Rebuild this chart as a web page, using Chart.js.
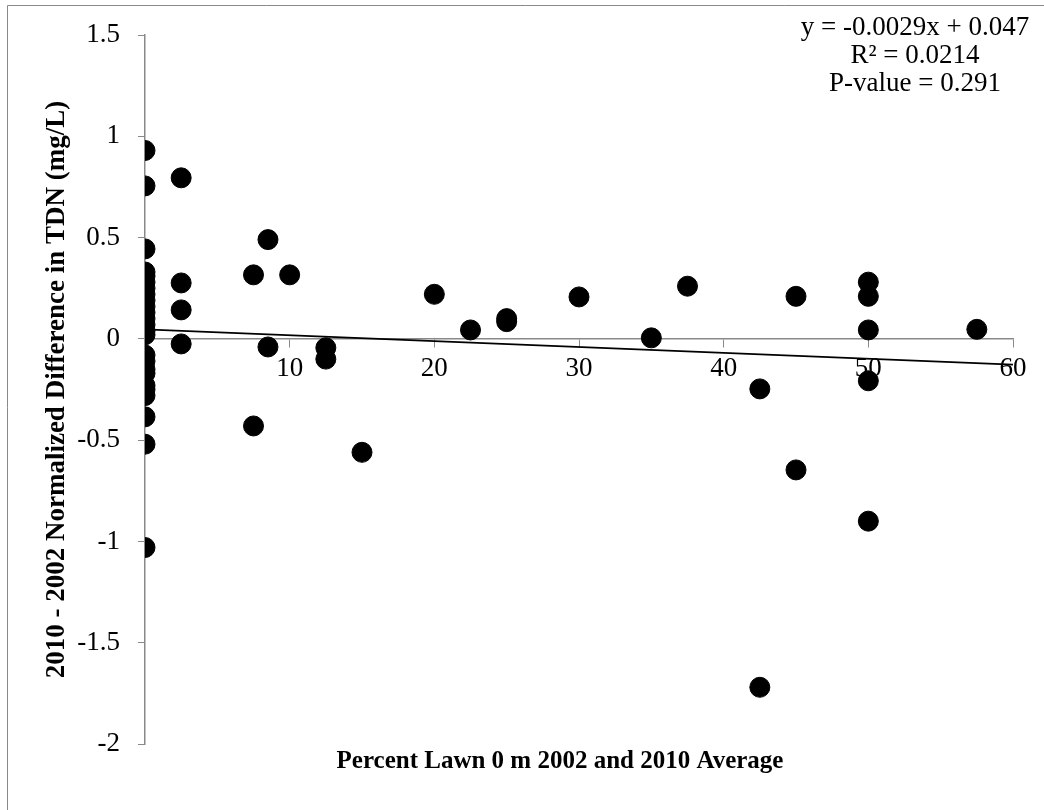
<!DOCTYPE html>
<html>
<head>
<meta charset="utf-8">
<script src="https://cdn.jsdelivr.net/npm/chart.js@4/dist/chart.umd.min.js"></script>
<style>
  html, body { margin: 0; padding: 0; background: #fff; }
  #wrap { position: relative; width: 1044px; height: 810px; }
</style>
</head>
<body>
<div id="wrap"><canvas id="myChart" width="1044" height="810"></canvas></div>
<script>
// percent lawn (x) and TDN difference (y)
var lawnPct = [
  0, 0, 0, 0, 0, 0, 0, 0, 0, 0, 0, 0, 0, 0, 0,
  0, 0, 0, 0, 0, 0, 0, 0, 0, 0,
  2.5, 2.5, 2.5, 2.5,
  7.5, 7.5, 8.5, 8.5, 10, 12.5, 12.5, 15,
  20, 22.5, 25, 25, 30, 35, 37.5,
  42.5, 42.5, 45, 45, 50, 50, 50, 50, 50, 57.5
];
var tdnDiff = [
  0.93, 0.755, 0.444, 0.33, 0.31, 0.28, 0.25, 0.22, 0.19, 0.16, 0.13, 0.10, 0.07, 0.04, 0.02,
  -0.08, -0.11, -0.15, -0.17, -0.23, -0.25, -0.28, -0.385, -0.52, -1.03,
  0.795, 0.276, 0.143, -0.025,
  0.316, -0.43, 0.49, -0.04, 0.316, -0.044, -0.10, -0.56,
  0.22, 0.044, 0.10, 0.085, 0.207, 0.005, 0.26,
  -0.247, -1.72, 0.21, -0.647, 0.28, 0.21, 0.044, -0.207, -0.90, 0.047
];

// linear trendline end points
var trendX = [0, 60];
var trendY = [0.047, -0.127];

var xTicks = [0, 10, 20, 30, 40, 50, 60];
var yTicks = [-2, -1.5, -1, -0.5, 0, 0.5, 1, 1.5];

var statsText = ["y = -0.0029x + 0.047", "R\u00b2 = 0.0214", "P-value = 0.291"];
var xTitle = "Percent Lawn 0 m 2002 and 2010 Average";
var yTitle = "2010 - 2002 Normalized Difference in TDN (mg/L)";

var FONT = "'Liberation Serif', 'Times New Roman', serif";
var AXIS_GRAY = "#898989";

var points = lawnPct.map(function (x, i) { return { x: x, y: tdnDiff[i] }; });
var trend = trendX.map(function (x, i) { return { x: x, y: trendY[i] }; });

var extrasPlugin = {
  id: 'extras',
  beforeDraw: function (chart) {
    var ctx = chart.ctx;
    ctx.save();
    ctx.strokeStyle = AXIS_GRAY;
    ctx.lineWidth = 1;
    ctx.beginPath();
    ctx.moveTo(7.5, 810);
    ctx.lineTo(7.5, 5.5);
    ctx.lineTo(1044, 5.5);
    ctx.stroke();
    ctx.restore();
  },
  afterDraw: function (chart) {
    var ctx = chart.ctx;
    ctx.save();
    ctx.fillStyle = "#000";
    ctx.textAlign = "center";
    ctx.textBaseline = "middle";
    ctx.font = "27px " + FONT;
    for (var i = 0; i < statsText.length; i++) {
      ctx.fillText(statsText[i], 915, 28 + i * 28);
    }
    ctx.font = "bold 25px " + FONT;
    ctx.fillText(xTitle, 560, 762);
    ctx.restore();
  }
};

var ctx = document.getElementById("myChart").getContext("2d");
var myChart = new Chart(ctx, {
  type: 'scatter',
  data: {
    datasets: [
      {
        label: 'TDN',
        data: points,
        backgroundColor: '#000',
        borderColor: '#000',
        pointRadius: 10,
        pointHoverRadius: 10,
        order: 2
      },
      {
        label: 'Trend',
        type: 'line',
        data: trend,
        borderColor: '#000',
        borderWidth: 1.6,
        pointRadius: 0,
        fill: false,
        order: 1
      }
    ]
  },
  options: {
    responsive: false,
    animation: false,
    layout: { padding: { left: 0, top: 35, right: 31, bottom: 66 } },
    plugins: {
      legend: { display: false },
      tooltip: { enabled: false }
    },
    scales: {
      x: {
        type: 'linear',
        position: { y: 0 },
        min: 0,
        max: 60,
        afterBuildTicks: function (scale) {
          scale.ticks = xTicks.map(function (v) { return { value: v }; });
        },
        ticks: {
          color: '#000',
          font: { family: FONT, size: 27 },
          padding: 6,
          maxRotation: 0,
          callback: function (v) { return v === 0 ? '' : String(v); }
        },
        grid: { drawOnChartArea: false, drawTicks: true, tickLength: 8, color: AXIS_GRAY },
        border: { color: AXIS_GRAY, width: 1.5 }
      },
      y: {
        type: 'linear',
        position: 'left',
        min: -2,
        max: 1.5,
        afterBuildTicks: function (scale) {
          scale.ticks = yTicks.map(function (v) { return { value: v }; });
        },
        afterFit: function (scale) { scale.width = 145; },
        ticks: {
          color: '#000',
          font: { family: FONT, size: 27 },
          padding: 18,
          callback: function (v) { return String(v); }
        },
        grid: { drawOnChartArea: false, drawTicks: true, tickLength: 7, color: AXIS_GRAY },
        border: { color: AXIS_GRAY, width: 1.5 },
        title: {
          display: true,
          text: yTitle,
          color: '#000',
          font: { family: FONT, size: 27, weight: 'bold' },
          padding: { top: 41, bottom: 0 }
        }
      }
    }
  },
  plugins: [extrasPlugin]
});
</script>
</body>
</html>
